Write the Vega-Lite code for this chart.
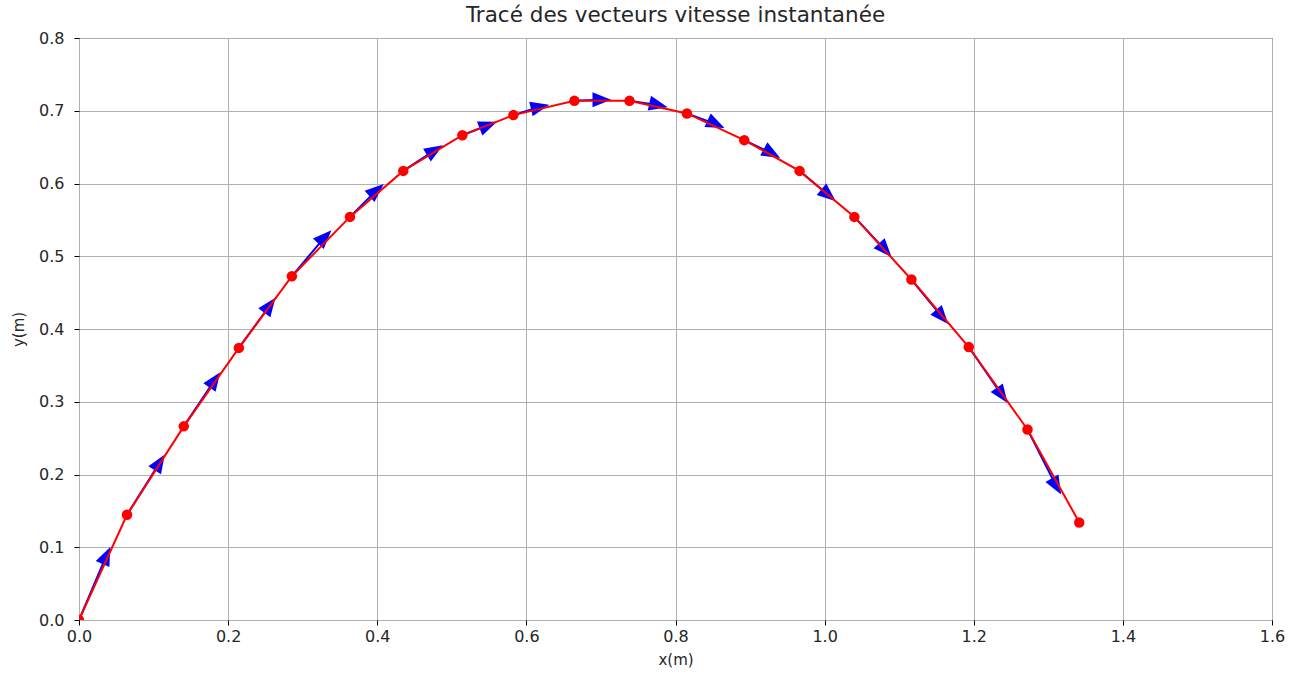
{
  "$schema": "https://vega.github.io/schema/vega-lite/v6.json",
  "autosize": "none",
  "width": 1193,
  "height": 582,
  "padding": {"left": 79, "top": 38, "right": 24, "bottom": 59},
  "background": "white",
  "config": {
    "font": "DejaVu Sans",
    "view": {"stroke": "#000000", "strokeWidth": 1},
    "axis": {
      "domain": false,
      "grid": true,
      "gridColor": "#b0b0b0",
      "gridWidth": 1,
      "tickColor": "#000000",
      "tickSize": 5,
      "tickWidth": 1,
      "labelColor": "#262626",
      "labelFontSize": 16,
      "labelFont": "DejaVu Sans",
      "labelFlush": false,
      "labelPadding": 3,
      "titleFont": "DejaVu Sans",
      "titleFontSize": 15,
      "titleFontWeight": "normal",
      "titleColor": "#262626"
    },
    "title": {"font": "DejaVu Sans", "fontSize": 21.5, "fontWeight": "normal", "color": "#262626", "offset": 0}
  },
  "title": {"text": "Tracé des vecteurs vitesse instantanée", "anchor": "middle"},
  "datasets": {
    "points": [
      {"x": 0.0, "y": 0.0},
      {"x": 0.0644, "y": 0.1447},
      {"x": 0.1405, "y": 0.2662},
      {"x": 0.2144, "y": 0.3740},
      {"x": 0.2855, "y": 0.4725},
      {"x": 0.3634, "y": 0.5541},
      {"x": 0.4349, "y": 0.6173},
      {"x": 0.5141, "y": 0.6664},
      {"x": 0.5826, "y": 0.6940},
      {"x": 0.6644, "y": 0.7136},
      {"x": 0.7383, "y": 0.7136},
      {"x": 0.8153, "y": 0.6963},
      {"x": 0.8922, "y": 0.6596},
      {"x": 0.9664, "y": 0.6173},
      {"x": 1.0399, "y": 0.5541},
      {"x": 1.1164, "y": 0.4680},
      {"x": 1.1933, "y": 0.3752},
      {"x": 1.2721, "y": 0.2618},
      {"x": 1.3415, "y": 0.1341}
    ],
    "arrows": [
      {"x0": 0.0, "y0": 0.0, "x": 0.0368, "y": 0.0887, "dir": -65.5},
      {"x0": 0.0644, "y0": 0.1447, "x": 0.1083, "y": 0.2166, "dir": -57.3},
      {"x0": 0.1405, "y0": 0.2662, "x": 0.1822, "y": 0.3301, "dir": -54.8},
      {"x0": 0.2144, "y0": 0.3740, "x": 0.2560, "y": 0.4326, "dir": -53.6},
      {"x0": 0.2855, "y0": 0.4725, "x": 0.3298, "y": 0.5265, "dir": -45.6},
      {"x0": 0.3634, "y0": 0.5541, "x": 0.3992, "y": 0.5908, "dir": -40.8},
      {"x0": 0.4349, "y0": 0.6173, "x": 0.4774, "y": 0.6458, "dir": -31.2},
      {"x0": 0.5141, "y0": 0.6664, "x": 0.5490, "y": 0.6802, "dir": -21.4},
      {"x0": 0.5826, "y0": 0.6940, "x": 0.6184, "y": 0.7054, "dir": -13.2},
      {"x0": 0.6644, "y0": 0.7136, "x": 0.7012, "y": 0.7150, "dir": 0.0},
      {"x0": 0.7383, "y0": 0.7136, "x": 0.7772, "y": 0.7077, "dir": 12.4},
      {"x0": 0.8153, "y0": 0.6963, "x": 0.8544, "y": 0.6816, "dir": 25.0},
      {"x0": 0.8922, "y0": 0.6596, "x": 0.9294, "y": 0.6413, "dir": 29.0},
      {"x0": 0.9664, "y0": 0.6173, "x": 1.0054, "y": 0.5839, "dir": 40.1},
      {"x0": 1.0399, "y0": 0.5541, "x": 1.0815, "y": 0.5083, "dir": 47.7},
      {"x0": 1.1164, "y0": 0.4680, "x": 1.1576, "y": 0.4165, "dir": 49.6},
      {"x0": 1.1933, "y0": 0.3752, "x": 1.2381, "y": 0.3088, "dir": 54.6},
      {"x0": 1.2721, "y0": 0.2618, "x": 1.3110, "y": 0.1836, "dir": 60.9}
    ]
  },
  "layer": [
    {
      "data": {"name": "arrows"},
      "mark": {"type": "rule", "color": "#0000ff", "strokeWidth": 2, "clip": true},
      "encoding": {
        "x": {"field": "x0", "type": "quantitative", "scale": {"domain": [0, 1.6], "nice": false, "zero": false, "padding": 0},
              "axis": {"title": "x(m)", "values": [0, 0.2, 0.4, 0.6, 0.8, 1.0, 1.2, 1.4, 1.6], "format": ".1f", "titlePadding": 8, "labelPadding": 3}},
        "y": {"field": "y0", "type": "quantitative", "scale": {"domain": [0, 0.8], "nice": false, "zero": false, "padding": 0},
              "axis": {"title": "y(m)", "values": [0, 0.1, 0.2, 0.3, 0.4, 0.5, 0.6, 0.7, 0.8], "format": ".1f", "titlePadding": 12, "labelPadding": 10}},
        "x2": {"field": "x"},
        "y2": {"field": "y"}
      }
    },
    {
      "data": {"name": "arrows"},
      "mark": {"type": "point", "shape": "M-1,-0.8L1,0L-1,0.8Z", "filled": true, "color": "#0000ff", "opacity": 1, "size": 350, "clip": true},
      "encoding": {
        "x": {"field": "x", "type": "quantitative"},
        "y": {"field": "y", "type": "quantitative"},
        "angle": {"field": "dir", "type": "quantitative", "scale": null}
      }
    },
    {
      "data": {"name": "points"},
      "mark": {"type": "line", "color": "#ff0000", "strokeWidth": 2, "clip": true},
      "encoding": {
        "x": {"field": "x", "type": "quantitative"},
        "y": {"field": "y", "type": "quantitative"}
      }
    },
    {
      "data": {"name": "points"},
      "mark": {"type": "circle", "color": "#ff0000", "opacity": 1, "size": 110, "clip": true},
      "encoding": {
        "x": {"field": "x", "type": "quantitative"},
        "y": {"field": "y", "type": "quantitative"}
      }
    }
  ]
}
